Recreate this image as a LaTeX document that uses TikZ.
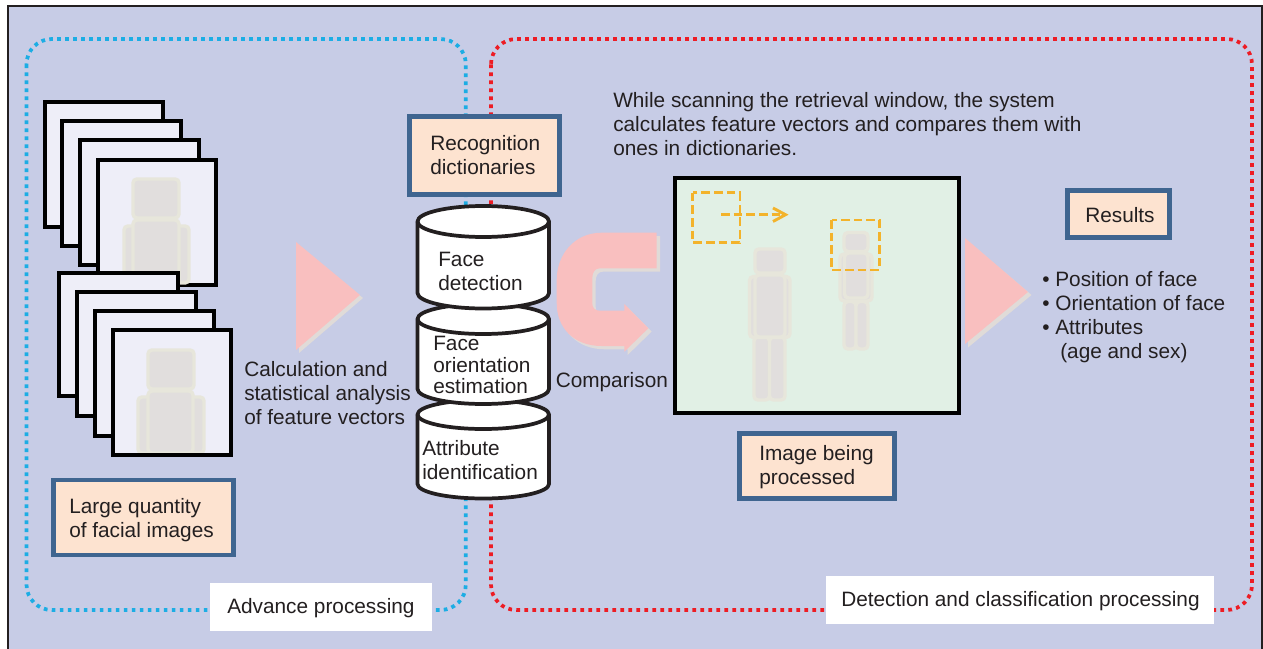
\documentclass[tikz,border=0pt]{standalone}
\usepackage{fontspec}
\setmainfont{Liberation Sans}
\definecolor{bgc}{HTML}{C7CCE6}
\definecolor{ink}{HTML}{231F20}
\definecolor{dotblue}{HTML}{1CADE4}
\definecolor{dotred}{HTML}{ED1C24}
\definecolor{boxedge}{HTML}{3F6590}
\definecolor{boxfill}{HTML}{FDE3D0}
\definecolor{photo}{HTML}{EEEEF8}
\definecolor{scene}{HTML}{E1F0E5}
\definecolor{pinkc}{HTML}{F9BFBF}
\definecolor{shade}{HTML}{E0DBD8}
\definecolor{bodyf}{HTML}{E1DEDD}
\definecolor{bodye}{HTML}{E7E6DB}
\definecolor{amber}{HTML}{F3B32B}
\tikzset{
  x=0.75pt,y=-0.75pt,
  txt/.style={font=\fontsize{15.6}{18}\selectfont,text=ink,align=left,inner sep=0pt,anchor=west},
  tagbox/.style={draw=boxedge,line width=3.4pt,fill=boxfill},
  whitebox/.style={fill=white,draw=none},
  dotline/.style={line width=2.8pt,dash pattern=on 2.8pt off 3.2pt,rounded corners=19pt},
  photobox/.style={draw=black,line width=3pt,fill=photo},
  limb/.style={draw=bodye,fill=bodyf,line width=2.6pt,rounded corners=3pt},
  cyl/.style={draw=ink,line width=2.8pt,fill=white,line join=round},
  pinkshape/.style={fill=pinkc,draw=none},
  shadeshape/.style={fill=shade,draw=none},
  winbox/.style={draw=amber,line width=2.2pt,dash pattern=on 6.5pt off 3pt},
}
\newcommand{\cylinder}[5]{% left, right, top-centre y, bottom-straight y, ry
  \path[cyl] (#1,#3) -- (#1,#4) arc[start angle=180,end angle=0,x radius={(#2-#1)/2},y radius=#5] -- (#2,#3) arc[start angle=0,end angle=-180,x radius={(#2-#1)/2},y radius=#5] -- cycle;
  \draw[cyl,fill=none] (#1,#3) arc[start angle=180,end angle=0,x radius={(#2-#1)/2},y radius=#5];
}
\begin{document}
\begin{tikzpicture}
\useasboundingbox (0,0) rectangle (1263,649);
% panel
\fill[bgc] (8,6) rectangle (1262,649);
\draw[ink,line width=1.5pt] (8,649) -- (8,6) -- (1262,6) -- (1262,649);
% dotted regions
\draw[dotblue,dotline] (26.5,39) rectangle (465.8,610);
\draw[dotred,dotline] (491,39) rectangle (1252,610);
\node[whitebox,minimum width=166.5pt,minimum height=36pt,inner sep=0pt] (advbox) at (321,607) {};
\node[whitebox,minimum width=291pt,minimum height=36pt,inner sep=0pt] (detbox) at (1020,600) {};
\node[txt] (advtxt) at (227,608) {Advance processing};
\node[txt] (dettxt) at (841,601) {Detection and classification processing};
% top stack
\draw[photobox] (44.5,102) rectangle (163,226.5);
\draw[photobox] (62,121) rectangle (181,246);
\draw[photobox] (80,140) rectangle (199,265);
\draw[photobox] (98,160) rectangle (216,284.5);
\draw[limb] (124,226) rectangle (189,283);
\draw[limb] (133,179) rectangle (179,218);
\draw[limb] (133,220) rectangle (179,283);
% bottom stack
\draw[photobox] (59,273) rectangle (178,396);
\draw[photobox] (77,292) rectangle (196,416);
\draw[photobox] (95,311) rectangle (214,436);
\draw[photobox] (113,330) rectangle (231,455);
\draw[limb] (138,397) rectangle (204,453);
\draw[limb] (148,350) rectangle (194,389);
\draw[limb] (148,391) rectangle (193,453);
\draw[photobox,fill=none] (113,330) rectangle (231,455);
% big triangles
\fill[shadeshape] (299,245) -- (363,298) -- (299,353) -- cycle;
\fill[pinkshape] (296,242) -- (360,295) -- (296,350) -- cycle;
\fill[shadeshape] (968,241) -- (1031.5,295) -- (968,347.5) -- cycle;
\fill[pinkshape] (965,238) -- (1028,292) -- (965,344) -- cycle;
% U arrow
\def\uarrow{(656.7,232.7) -- (601.7,232.7) .. controls (574,232.7) and (556.7,255) .. (556.7,280) -- (556.7,303) .. controls (556.7,328) and (574,346) .. (601.7,346) -- (624.3,346) -- (624.3,351.7) -- (648.3,328.3) -- (624.3,304) -- (624.3,310.7) -- (600,310.7) .. controls (595,310.7) and (592.3,308) .. (592.3,303.3) -- (592.3,278.3) .. controls (592.3,272) and (595,268.3) .. (600,268.3) -- (656.7,268.3) -- cycle}
\begin{scope}[shift={(3.3,3.3)}]
\fill[shadeshape] \uarrow;
\end{scope}
\fill[pinkshape] \uarrow;
% cylinders
\cylinder{417.5}{549}{414.5}{484}{14.5}
\cylinder{417.5}{549}{319}{389}{15}
\cylinder{417.5}{549}{221.5}{293}{15.5}
% tag boxes
\node[tagbox,minimum width=112.5pt,minimum height=58.5pt,inner sep=0pt] (dict) at (484.5,155.5) {};
\node[tagbox,minimum width=135pt,minimum height=56pt,inner sep=0pt] (large) at (143.5,517.5) {};
\node[tagbox,minimum width=116pt,minimum height=48.5pt,inner sep=0pt] (being) at (817,466) {};
\node[tagbox,minimum width=76.5pt,minimum height=35.5pt,inner sep=0pt] (res) at (1118.5,214) {};
% scene
\draw[draw=black,line width=3pt,fill=scene] (675,178) rectangle (958.5,413);
% big figure
\draw[limb] (754,337) rectangle (769.5,400);
\draw[limb] (769.5,337) rectangle (785,400);
\draw[limb] (749.5,276.5) rectangle (790,337.5);
\draw[limb] (755,275) rectangle (785,337);
\draw[limb] (755,249) rectangle (785,273);
% small figure
\draw[limb] (844,301.5) rectangle (856,349);
\draw[limb] (856,301.5) rectangle (868,349);
\draw[limb] (840,254) rectangle (872,301);
\draw[limb] (844.5,253) rectangle (868,298);
\draw[limb] (844,232.5) rectangle (868,251.5);
% window
\draw[winbox] (692.7,192.7) rectangle (740,242.7);
\draw[winbox] (831.7,220) rectangle (879.3,270);
\coordinate (arrowa) at (721,214.7);
\coordinate (arrowb) at (785,214.7);
\draw[winbox] (arrowa) -- (arrowb);
\draw[amber,line width=2.2pt] (773,208) -- (785.5,214.7) -- (773,221.5);
% texts
\node[txt] (scan) at (613,124.5) {While scanning the retrieval window, the system\\calculates feature vectors and compares them with\\ones in dictionaries.};
\node[txt] (dicttxt) at (430,155) {Recognition\\dictionaries};
\node[txt] (facetxt) at (438,271.5) {Face\\detection};
\node[txt,font=\fontsize{15.6}{16.2}\selectfont] (orienttxt) at (433,365) {Face\\orientation\\estimation};
\node[txt] (attrtxt) at (422,460) {Attribute\\identification};
\node[txt] (calc) at (244,393) {Calculation and\\statistical analysis\\of feature vectors};
\node[txt] (comp) at (555.5,382) {Comparison};
\node[txt] (beingtxt) at (759,467) {Image being\\processed};
\node[txt] (restxt) at (1085,215) {Results};
\node[txt] (bullets) at (1042,317) {•\ Position of face\\•\ Orientation of face\\•\ Attributes\\\hspace*{13.5pt}(age and sex)};
\node[txt] (largetxt) at (69,520) {Large quantity\\of facial images};
\end{tikzpicture}
\end{document}
